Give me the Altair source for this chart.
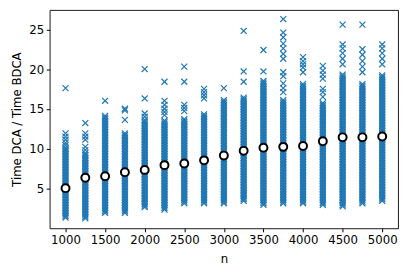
import altair as alt
import pandas as pd

n_values = [1000, 1250, 1500, 1750, 2000, 2250, 2500, 2750, 3000,
            3250, 3500, 3750, 4000, 4250, 4500, 4750, 5000]

ratios = {
    1000: [1.3,1.5,1.7,1.9,2.1,2.3,2.5,2.7,2.9,3.1,3.3,3.5,3.7,3.9,4.1,4.3,4.5,4.7,4.9,5.1,5.3,5.5,5.7,5.9,6.1,6.3,6.5,6.7,6.9,7.1,7.3,7.5,7.7,7.9,8.1,8.3,8.5,8.7,8.9,9.1,9.3,9.5,9.7,9.9,10.1,
           10.4,10.7,11.1,11.5,11.9,17.6],
    1250: [1.2,1.4,1.6,1.8,2.0,2.2,2.4,2.6,2.8,3.0,3.2,3.4,3.6,3.8,4.0,4.2,4.4,4.6,4.8,5.0,5.2,5.4,5.6,5.8,6.0,6.2,6.4,6.6,6.8,7.0,7.2,7.4,7.6,7.8,8.0,8.2,8.4,8.6,8.8,9.0,9.2,9.4,
           9.8,10.2,11.1,11.5,11.9,13.2],
    1500: [1.9,2.1,2.3,2.5,2.7,2.9,3.1,3.3,3.5,3.7,3.9,4.1,4.3,4.5,4.7,4.9,5.1,5.3,5.5,5.7,5.9,6.1,6.3,6.5,6.7,6.9,7.1,7.3,7.5,7.7,7.9,8.1,8.3,8.5,8.7,8.9,9.1,9.3,9.5,9.7,9.9,10.1,10.3,10.5,10.7,10.9,11.1,11.3,11.5,11.7,11.9,12.1,12.3,12.5,12.7,12.9,13.1,13.3,13.5,13.7,13.9,14.1,
           16.0],
    1750: [1.9,2.1,2.3,2.5,2.7,2.9,3.1,3.3,3.5,3.7,3.9,4.1,4.3,4.5,4.7,4.9,5.1,5.3,5.5,5.7,5.9,6.1,6.3,6.5,6.7,6.9,7.1,7.3,7.5,7.7,7.9,8.1,8.3,8.5,8.7,8.9,9.1,9.3,9.5,9.7,9.9,10.1,10.3,10.5,10.7,10.9,11.1,11.3,11.5,11.7,11.9,
           13.6,14.8,15.0],
    2000: [2.6,2.8,3.0,3.2,3.4,3.6,3.8,4.0,4.2,4.4,4.6,4.8,5.0,5.2,5.4,5.6,5.8,6.0,6.2,6.4,6.6,6.8,7.0,7.2,7.4,7.6,7.8,8.0,8.2,8.4,8.6,8.8,9.0,9.2,9.4,9.6,9.8,10.0,10.2,10.4,10.6,10.8,11.0,11.2,11.4,11.6,11.8,12.0,12.2,12.4,12.6,12.8,13.0,13.2,13.4,13.6,
           14.0,14.4,16.3,20.0],
    2250: [2.3,2.5,2.7,2.9,3.1,3.3,3.5,3.7,3.9,4.1,4.3,4.5,4.7,4.9,5.1,5.3,5.5,5.7,5.9,6.1,6.3,6.5,6.7,6.9,7.1,7.3,7.5,7.7,7.9,8.1,8.3,8.5,8.7,8.9,9.1,9.3,9.5,9.7,9.9,10.1,10.3,10.5,10.7,10.9,11.1,11.3,11.5,11.7,11.9,12.1,12.3,12.5,12.7,12.9,13.1,13.3,13.5,
           14.2,14.6,15.0,15.5,16.0,18.4],
    2500: [3.1,3.3,3.5,3.7,3.9,4.1,4.3,4.5,4.7,4.9,5.1,5.3,5.5,5.7,5.9,6.1,6.3,6.5,6.7,6.9,7.1,7.3,7.5,7.7,7.9,8.1,8.3,8.5,8.7,8.9,9.1,9.3,9.5,9.7,9.9,10.1,10.3,10.5,10.7,10.9,11.1,11.3,11.5,11.7,11.9,12.1,12.3,12.5,12.7,12.9,13.1,13.3,13.5,13.7,
           14.7,15.1,15.5,18.4,20.3],
    2750: [3.1,3.3,3.5,3.7,3.9,4.1,4.3,4.5,4.7,4.9,5.1,5.3,5.5,5.7,5.9,6.1,6.3,6.5,6.7,6.9,7.1,7.3,7.5,7.7,7.9,8.1,8.3,8.5,8.7,8.9,9.1,9.3,9.5,9.7,9.9,10.1,10.3,10.5,10.7,10.9,11.1,11.3,11.5,11.7,11.9,12.1,12.3,12.5,12.7,12.9,13.1,13.3,13.5,13.7,13.9,14.1,14.3,
           16.3,16.7,17.1,17.5],
    3000: [3.1,3.3,3.5,3.7,3.9,4.1,4.3,4.5,4.7,4.9,5.1,5.3,5.5,5.7,5.9,6.1,6.3,6.5,6.7,6.9,7.1,7.3,7.5,7.7,7.9,8.1,8.3,8.5,8.7,8.9,9.1,9.3,9.5,9.7,9.9,10.1,10.3,10.5,10.7,10.9,11.1,11.3,11.5,11.7,11.9,12.1,12.3,12.5,12.7,12.9,13.1,13.3,13.5,13.7,13.9,14.1,14.3,14.5,14.7,14.9,15.1,15.3,15.5,15.7,15.9,16.1,
           17.6],
    3250: [3.4,3.6,3.8,4.0,4.2,4.4,4.6,4.8,5.0,5.2,5.4,5.6,5.8,6.0,6.2,6.4,6.6,6.8,7.0,7.2,7.4,7.6,7.8,8.0,8.2,8.4,8.6,8.8,9.0,9.2,9.4,9.6,9.8,10.0,10.2,10.4,10.6,10.8,11.0,11.2,11.4,11.6,11.8,12.0,12.2,12.4,12.6,12.8,13.0,13.2,13.4,13.6,13.8,14.0,14.2,14.4,14.6,14.8,15.0,15.2,15.4,15.6,15.8,16.0,16.2,16.4,
           18.4,19.7,24.8],
    3500: [2.9,3.1,3.3,3.5,3.7,3.9,4.1,4.3,4.5,4.7,4.9,5.1,5.3,5.5,5.7,5.9,6.1,6.3,6.5,6.7,6.9,7.1,7.3,7.5,7.7,7.9,8.1,8.3,8.5,8.7,8.9,9.1,9.3,9.5,9.7,9.9,10.1,10.3,10.5,10.7,10.9,11.1,11.3,11.5,11.7,11.9,12.1,12.3,12.5,12.7,12.9,13.1,13.3,13.5,13.7,13.9,14.1,14.3,14.5,14.7,14.9,15.1,15.3,15.5,15.7,15.9,16.1,16.3,16.5,16.7,16.9,17.1,17.3,17.5,17.7,17.9,18.1,18.3,18.5,
           19.7,22.4],
    3750: [3.1,3.3,3.5,3.7,3.9,4.1,4.3,4.5,4.7,4.9,5.1,5.3,5.5,5.7,5.9,6.1,6.3,6.5,6.7,6.9,7.1,7.3,7.5,7.7,7.9,8.1,8.3,8.5,8.7,8.9,9.1,9.3,9.5,9.7,9.9,10.1,10.3,10.5,10.7,10.9,11.1,11.3,11.5,11.7,11.9,12.1,12.3,12.5,12.7,12.9,13.1,13.3,13.5,13.7,13.9,14.1,14.3,14.5,14.7,14.9,15.1,15.3,15.5,15.7,15.9,16.1,
           17.1,17.6,18.2,19.1,19.6,21.3,21.9,22.6,23.2,24.0,24.6,26.3],
    4000: [3.1,3.3,3.5,3.7,3.9,4.1,4.3,4.5,4.7,4.9,5.1,5.3,5.5,5.7,5.9,6.1,6.3,6.5,6.7,6.9,7.1,7.3,7.5,7.7,7.9,8.1,8.3,8.5,8.7,8.9,9.1,9.3,9.5,9.7,9.9,10.1,10.3,10.5,10.7,10.9,11.1,11.3,11.5,11.7,11.9,12.1,12.3,12.5,12.7,12.9,13.1,13.3,13.5,13.7,13.9,14.1,14.3,14.5,14.7,14.9,15.1,15.3,15.5,15.7,15.9,16.1,16.3,16.5,16.7,16.9,17.1,17.3,17.5,17.7,17.9,18.1,
           19.6,20.2,20.6,21.0,21.5],
    4250: [2.9,3.1,3.3,3.5,3.7,3.9,4.1,4.3,4.5,4.7,4.9,5.1,5.3,5.5,5.7,5.9,6.1,6.3,6.5,6.7,6.9,7.1,7.3,7.5,7.7,7.9,8.1,8.3,8.5,8.7,8.9,9.1,9.3,9.5,9.7,9.9,10.1,10.3,10.5,10.7,10.9,11.1,11.3,11.5,11.7,11.9,12.1,12.3,12.5,12.7,12.9,13.1,13.3,13.5,13.7,13.9,14.1,14.3,14.5,14.7,14.9,15.1,15.3,15.5,15.7,
           16.5,17.1,17.5,18.8,19.3,19.8,20.4],
    4500: [2.7,2.9,3.1,3.3,3.5,3.7,3.9,4.1,4.3,4.5,4.7,4.9,5.1,5.3,5.5,5.7,5.9,6.1,6.3,6.5,6.7,6.9,7.1,7.3,7.5,7.7,7.9,8.1,8.3,8.5,8.7,8.9,9.1,9.3,9.5,9.7,9.9,10.1,10.3,10.5,10.7,10.9,11.1,11.3,11.5,11.7,11.9,12.1,12.3,12.5,12.7,12.9,13.1,13.3,13.5,13.7,13.9,14.1,14.3,14.5,14.7,14.9,15.1,15.3,15.5,15.7,15.9,16.1,16.3,16.5,16.7,16.9,17.1,17.3,17.5,17.7,17.9,18.1,18.3,18.5,18.7,18.9,19.1,19.3,
           20.6,21.3,22.0,22.6,23.1,25.6],
    4750: [3.1,3.3,3.5,3.7,3.9,4.1,4.3,4.5,4.7,4.9,5.1,5.3,5.5,5.7,5.9,6.1,6.3,6.5,6.7,6.9,7.1,7.3,7.5,7.7,7.9,8.1,8.3,8.5,8.7,8.9,9.1,9.3,9.5,9.7,9.9,10.1,10.3,10.5,10.7,10.9,11.1,11.3,11.5,11.7,11.9,12.1,12.3,12.5,12.7,12.9,13.1,13.3,13.5,13.7,13.9,14.1,14.3,14.5,14.7,14.9,15.1,15.3,15.5,15.7,15.9,16.1,16.3,16.5,16.7,16.9,17.1,17.3,17.5,17.7,17.9,18.1,
           19.6,20.3,21.0,21.8,22.5,25.6],
    5000: [3.4,3.6,3.8,4.0,4.2,4.4,4.6,4.8,5.0,5.2,5.4,5.6,5.8,6.0,6.2,6.4,6.6,6.8,7.0,7.2,7.4,7.6,7.8,8.0,8.2,8.4,8.6,8.8,9.0,9.2,9.4,9.6,9.8,10.0,10.2,10.4,10.6,10.8,11.0,11.2,11.4,11.6,11.8,12.0,12.2,12.4,12.6,12.8,13.0,13.2,13.4,13.6,13.8,14.0,14.2,14.4,14.6,14.8,15.0,15.2,15.4,15.6,15.8,16.0,16.2,16.4,16.6,16.8,17.0,17.2,17.4,17.6,17.8,18.0,18.2,18.4,18.6,18.8,19.0,19.2,
           20.6,21.3,22.0,22.6,23.1],
}

mean_ratios = [5.0, 6.3, 6.5, 7.0, 7.3, 7.9, 8.1, 8.5, 9.1,
               9.7, 10.1, 10.2, 10.3, 10.9, 11.4, 11.4, 11.5]

x_ticks = [1000, 1500, 2000, 2500, 3000, 3500, 4000, 4500, 5000]
y_ticks = [5, 10, 15, 20, 25]

rows = []
for n in n_values:
    for r in ratios[n]:
        rows.append({"n": n, "ratio": r})
scatter_df = pd.DataFrame(rows)
mean_df = pd.DataFrame({"n": n_values, "ratio": mean_ratios})

FONT = "DejaVu Sans"
FS = 11.8

x_enc = alt.X("n:Q", title="n",
              scale=alt.Scale(domain=[800, 5200], nice=False, zero=False),
              axis=alt.Axis(values=x_ticks, format="d", grid=False, domain=False,
                            tickSize=3.5, tickColor="black", labelPadding=2.5,
                            labelFontSize=FS, labelFont=FONT, labelColor="black",
                            titleFont=FONT, titleFontSize=FS, titleFontWeight="normal",
                            titleColor="black", titlePadding=8))
y_enc = alt.Y("ratio:Q", title="Time DCA / Time BDCA",
              scale=alt.Scale(domain=[-0.06, 27.44], nice=False, zero=False),
              axis=alt.Axis(values=y_ticks, grid=False, domain=False,
                            tickSize=3.5, tickColor="black", labelPadding=2.5,
                            labelFontSize=FS, labelFont=FONT, labelColor="black",
                            titleFont=FONT, titleFontSize=FS, titleFontWeight="normal",
                            titleColor="black", titlePadding=6.5))

scatter = alt.Chart(scatter_df).mark_point(
    shape="M-1,-1L1,1M-1,1L1,-1", filled=False, color="#1f77b4",
    strokeWidth=1.2, size=36, opacity=1, clip=True
).encode(x=x_enc, y=y_enc)

means = alt.Chart(mean_df).mark_point(
    shape="circle", filled=True, fill="white", stroke="black",
    strokeWidth=2, size=64, opacity=1, fillOpacity=1
).encode(x="n:Q", y="ratio:Q")

chart = (scatter + means).properties(
    width=351, height=220,
    padding={"left": 3, "top": 1, "right": 5, "bottom": 5},
    background="white"
).configure_view(stroke="black", strokeWidth=0.9)

chart.save("out.html", embed_options={"renderer": "svg", "actions": False})
